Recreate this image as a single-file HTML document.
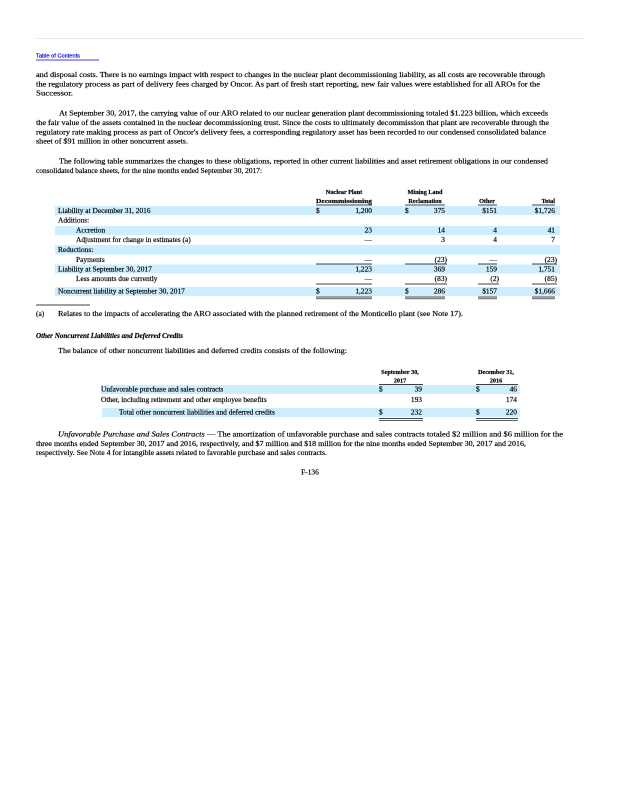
<!DOCTYPE html>
<html><head><meta charset="utf-8"><style>
html,body{margin:0;padding:0;background:#fff;width:618px;height:800px;overflow:hidden}
svg text{font-family:"Liberation Serif",serif;font-size:7.4px;fill:#000;stroke:#000;stroke-width:0.18}
.b{font-weight:bold;font-size:6.2px}
</style></head><body>
<svg width="618" height="800" viewBox="0 0 618 800" xmlns="http://www.w3.org/2000/svg">
<line x1="36" y1="38.5" x2="585" y2="38.5" stroke="#e6e6e6" stroke-width="1"/>
<text x="36" y="57.5" style="font-family:'Liberation Sans',sans-serif;font-size:5.5px;fill:#0000cc;stroke:#0000cc" textLength="44" lengthAdjust="spacingAndGlyphs">Table of Contents</text>
<line x1="36" y1="60" x2="99" y2="60" stroke="#0000cc" stroke-width="0.8"/>

<text x="36" y="77" textLength="509" lengthAdjust="spacingAndGlyphs">and disposal costs. There is no earnings impact with respect to changes in the nuclear plant decommissioning liability, as all costs are recoverable through</text>
<text x="36" y="86.3" textLength="504" lengthAdjust="spacingAndGlyphs">the regulatory process as part of delivery fees charged by Oncor. As part of fresh start reporting, new fair values were established for all AROs for the</text>
<text x="36" y="95.6" textLength="37" lengthAdjust="spacingAndGlyphs">Successor.</text>

<text x="59" y="115.6" textLength="489" lengthAdjust="spacingAndGlyphs">At September 30, 2017, the carrying value of our ARO related to our nuclear generation plant decommissioning totaled $1.223 billion, which exceeds</text>
<text x="36" y="125" textLength="513" lengthAdjust="spacingAndGlyphs">the fair value of the assets contained in the nuclear decommissioning trust. Since the costs to ultimately decommission that plant are recoverable through the</text>
<text x="36" y="134.3" textLength="510" lengthAdjust="spacingAndGlyphs">regulatory rate making process as part of Oncor's delivery fees, a corresponding regulatory asset has been recorded to our condensed consolidated balance</text>
<text x="36" y="143.6" textLength="152" lengthAdjust="spacingAndGlyphs">sheet of $91 million in other noncurrent assets.</text>

<text x="59" y="163.6" textLength="489" lengthAdjust="spacingAndGlyphs">The following table summarizes the changes to these obligations, reported in other current liabilities and asset retirement obligations in our condensed</text>
<text x="36" y="173" textLength="226" lengthAdjust="spacingAndGlyphs">consolidated balance sheets, for the nine months ended September 30, 2017:</text>

<rect x="55" y="206" width="505" height="9" fill="#cceeff"/>
<rect x="55" y="226" width="505" height="9" fill="#cceeff"/>
<rect x="55" y="245" width="505" height="9.5" fill="#cceeff"/>
<rect x="55" y="264.5" width="505" height="9" fill="#cceeff"/>
<rect x="55" y="287" width="505" height="9" fill="#cceeff"/>

<text class="b" x="344" y="194" text-anchor="middle">Nuclear Plant</text>
<text class="b" x="344" y="203" text-anchor="middle" textLength="56" lengthAdjust="spacingAndGlyphs">Decommissioning</text>
<text class="b" x="425" y="194" text-anchor="middle">Mining Land</text>
<text class="b" x="425" y="203" text-anchor="middle">Reclamation</text>
<text class="b" x="487" y="203" text-anchor="middle">Other</text>
<text class="b" x="555" y="203" text-anchor="end">Total</text>
<g stroke="#000" stroke-width="0.7">
<line x1="316" y1="205" x2="372" y2="205"/><line x1="405" y1="205" x2="445" y2="205"/>
<line x1="478" y1="205" x2="497" y2="205"/><line x1="532" y1="205" x2="555" y2="205"/>
</g>

<g>
<text x="58" y="213">Liability at December 31, 2016</text>
<text x="316" y="213">$</text><text x="372" y="213" text-anchor="end">1,200</text>
<text x="405" y="213">$</text><text x="445" y="213" text-anchor="end">375</text>
<text x="497" y="213" text-anchor="end">$151</text><text x="555" y="213" text-anchor="end">$1,726</text>

<text x="58" y="222.5">Additions:</text>
<text x="76" y="232.5">Accretion</text>
<text x="372" y="232.5" text-anchor="end">23</text><text x="445" y="232.5" text-anchor="end">14</text>
<text x="497" y="232.5" text-anchor="end">4</text><text x="555" y="232.5" text-anchor="end">41</text>
<text x="76" y="242">Adjustment for change in estimates (a)</text>
<text x="372" y="242" text-anchor="end">—</text><text x="445" y="242" text-anchor="end">3</text>
<text x="497" y="242" text-anchor="end">4</text><text x="555" y="242" text-anchor="end">7</text>
<text x="58" y="252">Reductions:</text>
<text x="76" y="262">Payments</text>
<text x="372" y="262" text-anchor="end">—</text><text x="447" y="262" text-anchor="end">(23)</text>
<text x="497" y="262" text-anchor="end">—</text><text x="557" y="262" text-anchor="end">(23)</text>
<text x="58" y="271.5">Liability at September 30, 2017</text>
<text x="372" y="271.5" text-anchor="end">1,223</text><text x="445" y="271.5" text-anchor="end">369</text>
<text x="497" y="271.5" text-anchor="end">159</text><text x="555" y="271.5" text-anchor="end">1,751</text>
<text x="76" y="281">Less amounts due currently</text>
<text x="372" y="281" text-anchor="end">—</text><text x="447" y="281" text-anchor="end">(83)</text>
<text x="499" y="281" text-anchor="end">(2)</text><text x="557" y="281" text-anchor="end">(85)</text>
<text x="58" y="293.5">Noncurrent liability at September 30, 2017</text>
<text x="316" y="293.5">$</text><text x="372" y="293.5" text-anchor="end">1,223</text>
<text x="405" y="293.5">$</text><text x="445" y="293.5" text-anchor="end">286</text>
<text x="497" y="293.5" text-anchor="end">$157</text><text x="555" y="293.5" text-anchor="end">$1,666</text>
</g>
<g stroke="#000" stroke-width="0.7">
<line x1="316" y1="264" x2="372" y2="264"/><line x1="405" y1="264" x2="447" y2="264"/>
<line x1="478" y1="264" x2="497" y2="264"/><line x1="532" y1="264" x2="557" y2="264"/>
<line x1="316" y1="284" x2="372" y2="284"/><line x1="405" y1="284" x2="447" y2="284"/>
<line x1="478" y1="284" x2="499" y2="284"/><line x1="532" y1="284" x2="557" y2="284"/>
<line x1="316" y1="297" x2="372" y2="297"/><line x1="405" y1="297" x2="445" y2="297"/>
<line x1="478" y1="297" x2="497" y2="297"/><line x1="532" y1="297" x2="555" y2="297"/>
<line x1="316" y1="298.8" x2="372" y2="298.8"/><line x1="405" y1="298.8" x2="445" y2="298.8"/>
<line x1="478" y1="298.8" x2="497" y2="298.8"/><line x1="532" y1="298.8" x2="555" y2="298.8"/>
<line x1="36" y1="305" x2="90" y2="305"/>
</g>
<text x="36" y="316">(a)</text>
<text x="58" y="316" textLength="405" lengthAdjust="spacingAndGlyphs">Relates to the impacts of accelerating the ARO associated with the planned retirement of the Monticello plant (see Note 17).</text>

<text x="36" y="338" style="font-style:italic;font-weight:bold" textLength="147" lengthAdjust="spacingAndGlyphs">Other Noncurrent Liabilities and Deferred Credits</text>
<text x="58" y="353" textLength="289" lengthAdjust="spacingAndGlyphs">The balance of other noncurrent liabilities and deferred credits consists of the following:</text>

<rect x="101" y="385" width="419" height="9" fill="#cceeff"/>
<rect x="102" y="408" width="418" height="9" fill="#cceeff"/>
<text class="b" x="400" y="374" text-anchor="middle">September 30,</text>
<text class="b" x="400" y="382.5" text-anchor="middle">2017</text>
<text class="b" x="496" y="374" text-anchor="middle">December 31,</text>
<text class="b" x="496" y="382.5" text-anchor="middle">2016</text>
<g stroke="#000" stroke-width="0.7">
<line x1="379" y1="384.5" x2="423" y2="384.5"/><line x1="476" y1="384.5" x2="518" y2="384.5"/>
<line x1="379" y1="418.5" x2="423" y2="418.5"/><line x1="476" y1="418.5" x2="518" y2="418.5"/>
<line x1="379" y1="420.3" x2="423" y2="420.3"/><line x1="476" y1="420.3" x2="518" y2="420.3"/>
</g>
<text x="101" y="391.5">Unfavorable purchase and sales contracts</text>
<text x="379" y="391.5">$</text><text x="422" y="391.5" text-anchor="end">39</text>
<text x="476" y="391.5">$</text><text x="517" y="391.5" text-anchor="end">46</text>
<text x="101" y="402">Other, including retirement and other employee benefits</text>
<text x="422" y="402" text-anchor="end">193</text><text x="517" y="402" text-anchor="end">174</text>
<text x="119" y="414.5">Total other noncurrent liabilities and deferred credits</text>
<text x="379" y="414.5">$</text><text x="422" y="414.5" text-anchor="end">232</text>
<text x="476" y="414.5">$</text><text x="517" y="414.5" text-anchor="end">220</text>

<text x="58" y="436.5" textLength="505" lengthAdjust="spacingAndGlyphs"><tspan style="font-style:italic">Unfavorable Purchase and Sales Contracts</tspan>     — The amortization of unfavorable purchase and sales contracts totaled $2 million and $6 million for the</text>
<text x="36" y="445.8" textLength="490" lengthAdjust="spacingAndGlyphs">three months ended September 30, 2017 and 2016, respectively, and $7 million and $18 million for the nine months ended September 30, 2017 and 2016,</text>
<text x="36" y="455" textLength="291" lengthAdjust="spacingAndGlyphs">respectively. See Note 4 for intangible assets related to favorable purchase and sales contracts.</text>

<text x="310" y="474.5" text-anchor="middle">F-136</text>
</svg>
</body></html>
